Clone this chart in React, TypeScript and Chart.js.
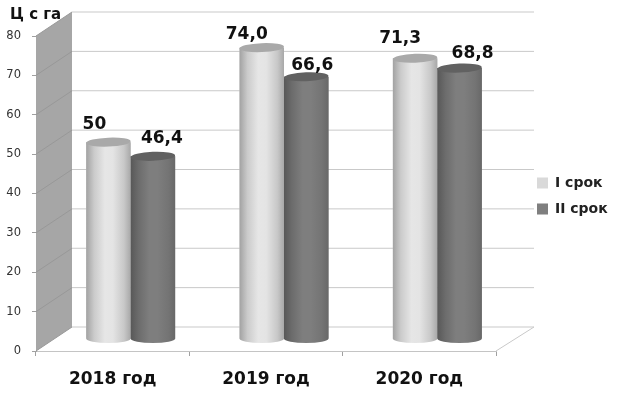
import React, { useEffect, useRef } from "react";
import { Chart, registerables } from "chart.js";

Chart.register(...registerables);

const categories = ["2018 год", "2019 год", "2020 год"];
const seriesNames = ["I срок", "II срок"];
const firstTerm = [50, 74.0, 71.3];
const secondTerm = [46.4, 66.6, 68.8];
const firstTermLabels = ["50", "74,0", "71,3"];
const secondTermLabels = ["46,4", "66,6", "68,8"];
const axisTitle = "Ц с га";

const FONT = "'DejaVu Sans', sans-serif";
const WALL = { dx: 36, dy: -24 };
const BAR_SHIFT = { dx: 18, dy: -12 };
const LABEL_OFFSETS = [
  [[-14, -18], [-15, -13], [-15, -20]],
  [[9, -18], [6, -11], [13, -15]],
];
const RAMPS = [
  { stops: ["#a2a2a2", "#cbcbcb", "#e6e6e6", "#e4e4e4", "#c8c8c8", "#a8a8a8"], cap: "#a9a9a9" },
  { stops: ["#585858", "#6c6c6c", "#7e7e7e", "#7e7e7e", "#747474", "#686868"], cap: "#616161" },
];

const cylinderPlugin = {
  id: "cylinder3d",
  beforeDatasetsDraw(chart: any) {
    const { ctx, chartArea: a, scales } = chart;
    const y = scales.y;
    const top = y.getPixelForValue(80);
    const bottom = y.getPixelForValue(0);
    ctx.save();
    ctx.fillStyle = "#a6a6a6";
    ctx.beginPath();
    ctx.moveTo(a.left, bottom);
    ctx.lineTo(a.left, top);
    ctx.lineTo(a.left + WALL.dx, top + WALL.dy);
    ctx.lineTo(a.left + WALL.dx, bottom + WALL.dy);
    ctx.closePath();
    ctx.fill();
    ctx.lineWidth = 1;
    y.ticks.forEach((t: any) => {
      const p = y.getPixelForValue(t.value);
      ctx.strokeStyle = "#989898";
      ctx.beginPath();
      ctx.moveTo(a.left, p);
      ctx.lineTo(a.left + WALL.dx, p + WALL.dy);
      ctx.stroke();
      ctx.strokeStyle = "#c9c9c9";
      ctx.beginPath();
      ctx.moveTo(a.left + WALL.dx, p + WALL.dy);
      ctx.lineTo(a.right + WALL.dx + 2, p + WALL.dy);
      ctx.stroke();
    });
    ctx.strokeStyle = "#c9c9c9";
    ctx.beginPath();
    ctx.moveTo(a.right, bottom);
    ctx.lineTo(a.right + WALL.dx + 2, bottom + WALL.dy);
    ctx.stroke();
    ctx.restore();
  },
  beforeDatasetDraw(chart: any) {
    chart.ctx.save();
    chart.ctx.translate(BAR_SHIFT.dx, BAR_SHIFT.dy);
  },
  afterDatasetDraw(chart: any) {
    chart.ctx.restore();
  },
  afterDatasetsDraw(chart: any) {
    const { ctx } = chart;
    const ry = 4.5;
    ctx.save();
    ctx.translate(BAR_SHIFT.dx, BAR_SHIFT.dy);
    RAMPS.forEach((ramp, ds) => {
      chart.getDatasetMeta(ds).data.forEach((bar: any) => {
        const { x, y, base, width } = bar.getProps(["x", "y", "base", "width"], true);
        const l = x - width / 2;
        const r = x + width / 2;
        const g = ctx.createLinearGradient(l, 0, r, 0);
        [0, 0.18, 0.42, 0.6, 0.85, 1].forEach((s, i) => g.addColorStop(s, ramp.stops[i]));
        ctx.fillStyle = g;
        ctx.beginPath();
        ctx.moveTo(l, y);
        ctx.lineTo(r, y);
        ctx.lineTo(r, base);
        ctx.ellipse(x, base, width / 2, ry, 0, 0, Math.PI);
        ctx.closePath();
        ctx.fill();
        ctx.fillStyle = ramp.cap;
        ctx.beginPath();
        ctx.ellipse(x, y, width / 2, ry, -0.04, 0, Math.PI * 2);
        ctx.fill();
      });
    });
    ctx.restore();

    const texts = [firstTermLabels, secondTermLabels];
    ctx.save();
    ctx.font = `bold 17px ${FONT}`;
    ctx.fillStyle = "#111";
    ctx.textAlign = "center";
    ctx.textBaseline = "middle";
    texts.forEach((list, ds) => {
      chart.getDatasetMeta(ds).data.forEach((bar: any, i: number) => {
        const [ox, oy] = LABEL_OFFSETS[ds][i];
        ctx.fillText(list[i], bar.x + BAR_SHIFT.dx + ox, bar.y + BAR_SHIFT.dy + oy);
      });
    });
    ctx.restore();
  },
  afterLayout(chart: any) {
    const lg = chart.legend;
    if (lg) {
      const w = lg.right - lg.left;
      const h = lg.bottom - lg.top;
      lg.left = 525;
      lg.right = lg.left + w;
      lg.top = 164;
      lg.bottom = lg.top + h;
    }
    if (chart.titleBlock) chart.titleBlock.left = 10;
  },
};

export default function App() {
  const ref = useRef<HTMLCanvasElement | null>(null);
  useEffect(() => {
    const chart = new Chart(ref.current as HTMLCanvasElement, {
      type: "bar",
      data: {
        labels: categories,
        datasets: [
          { label: seriesNames[0], data: firstTerm, backgroundColor: "#d9d9d9", clip: false },
          { label: seriesNames[1], data: secondTerm, backgroundColor: "#7f7f7f", clip: false },
        ] as any,
      },
      options: {
        responsive: false,
        animation: false,
        layout: { padding: { left: 0, right: 20, top: 0, bottom: 0 } },
        datasets: { bar: { categoryPercentage: 0.58, barPercentage: 1 } },
        plugins: {
          tooltip: { enabled: false },
          title: {
            display: true,
            text: axisTitle,
            align: "start",
            color: "#111",
            font: { family: FONT, size: 15, weight: "bold", lineHeight: 1.2 },
            padding: { top: 6, bottom: 12 },
          },
          legend: {
            position: "right",
            align: "start",
            labels: {
              boxWidth: 11,
              boxHeight: 11,
              padding: 12,
              color: "#222",
              font: { family: FONT, size: 14, weight: "bold" },
            },
          },
        },
        scales: {
          x: {
            afterFit: (s: any) => {
              s.height = 43;
            },
            border: { color: "#c4c4c4" },
            grid: { drawOnChartArea: false, tickLength: 5, color: "#a0a0a0" },
            ticks: {
              color: "#111",
              padding: 13,
              maxRotation: 0,
              font: { family: FONT, size: 17, weight: "bold" },
            },
          },
          y: {
            min: 0,
            max: 80,
            afterFit: (s: any) => {
              s.width = 36;
            },
            border: { color: "#a8a8a8" },
            grid: { drawOnChartArea: false, tickLength: 4, color: "#a0a0a0" },
            ticks: {
              stepSize: 10,
              color: "#333",
              padding: 11,
              font: { family: FONT, size: 11.5 },
            },
          },
        },
      } as any,
      plugins: [cylinderPlugin as any],
    });
    const pad = (chart.options.layout as any).padding;
    pad.right += chart.chartArea.right - 496;
    chart.update();
    return () => chart.destroy();
  }, []);
  return (
    <div style={{ position: "fixed", left: 0, top: 0, width: 618, height: 394, background: "#fff" }}>
      <canvas ref={ref} width={618} height={394} style={{ display: "block", filter: "blur(0.45px)" }} />
    </div>
  );
}
